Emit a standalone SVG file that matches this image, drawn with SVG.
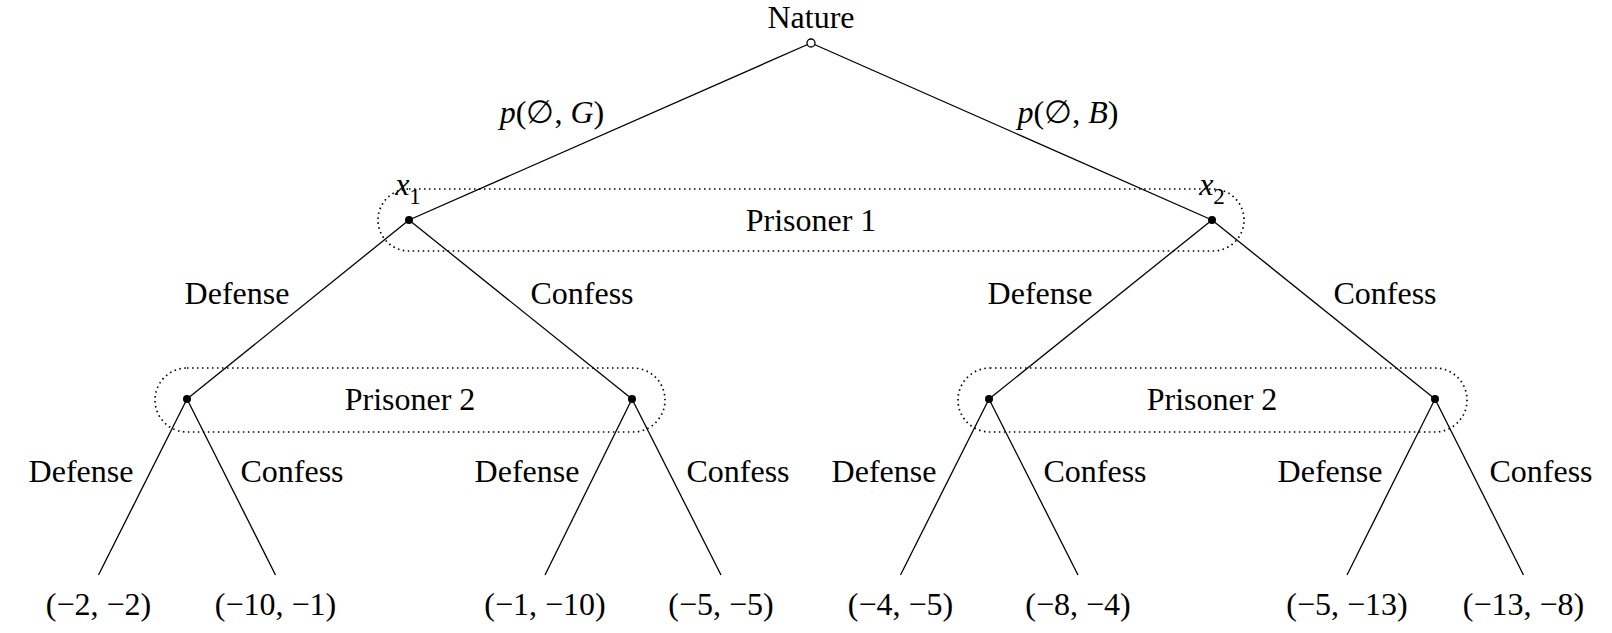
<svg xmlns="http://www.w3.org/2000/svg" width="1612" height="633" viewBox="0 0 1612 633">
<style>
  .edge { stroke: #000; stroke-width: 1.3; fill: none; }
  .info { stroke: #000; stroke-width: 1.7; fill: none; stroke-dasharray: 1.5 3.5; stroke-linecap: butt; }
  .dot { fill: #000; }
  .open { fill: #fff; stroke: #000; stroke-width: 1.3; }
  text { font-family: "Liberation Serif", "DejaVu Serif", serif; font-size: 32px; fill: #000; text-anchor: middle; }
  .it { font-style: italic; }
</style>
<rect width="1612" height="633" fill="#fff"/>
<g id="edges">
  <line class="edge" x1="811" y1="43" x2="409" y2="220"/>
  <line class="edge" x1="811" y1="43" x2="1212" y2="220"/>
  <line class="edge" x1="409" y1="220" x2="187" y2="399"/>
  <line class="edge" x1="409" y1="220" x2="632" y2="399"/>
  <line class="edge" x1="1212" y1="220" x2="989" y2="399"/>
  <line class="edge" x1="1212" y1="220" x2="1435" y2="399"/>
  <line class="edge" x1="187" y1="399" x2="98.5" y2="575"/>
  <line class="edge" x1="187" y1="399" x2="275.5" y2="575"/>
  <line class="edge" x1="632" y1="399" x2="545" y2="575"/>
  <line class="edge" x1="632" y1="399" x2="721" y2="575"/>
  <line class="edge" x1="989" y1="399" x2="900.5" y2="575"/>
  <line class="edge" x1="989" y1="399" x2="1078" y2="575"/>
  <line class="edge" x1="1435" y1="399" x2="1347" y2="575"/>
  <line class="edge" x1="1435" y1="399" x2="1523.5" y2="575"/>
  <text x="552" y="123"><tspan class="it">p</tspan>(∅, <tspan class="it">G</tspan>)</text>
  <text x="1068" y="123"><tspan class="it">p</tspan>(∅, <tspan class="it">B</tspan>)</text>
  <text x="237" y="304">Defense</text>
  <text x="582" y="304">Confess</text>
  <text x="1040" y="304">Defense</text>
  <text x="1385" y="304">Confess</text>
  <text x="81" y="482">Defense</text>
  <text x="292" y="482">Confess</text>
  <text x="527" y="482">Defense</text>
  <text x="738" y="482">Confess</text>
  <text x="884" y="482">Defense</text>
  <text x="1095" y="482">Confess</text>
  <text x="1330" y="482">Defense</text>
  <text x="1541" y="482">Confess</text>
</g>
<g id="infoset-p1">
  <rect class="info" x="378" y="189" width="866" height="62" rx="31" ry="31"/>
  <text x="811" y="231">Prisoner 1</text>
</g>
<g id="infoset-p2-left">
  <rect class="info" x="155" y="368" width="510" height="64" rx="32" ry="32"/>
  <text x="410" y="410">Prisoner 2</text>
</g>
<g id="infoset-p2-right">
  <rect class="info" x="958" y="368" width="509" height="64" rx="32" ry="32"/>
  <text x="1212" y="410">Prisoner 2</text>
</g>
<g id="nature">
  <circle class="open" cx="811" cy="43" r="4"/>
  <text x="811" y="28">Nature</text>
</g>
<g id="x1">
  <circle class="dot" cx="409" cy="220" r="4"/>
  <text x="408" y="195"><tspan class="it">x</tspan><tspan font-size="23" dy="9">1</tspan></text>
</g>
<g id="x2">
  <circle class="dot" cx="1212" cy="220" r="4"/>
  <text x="1212" y="195"><tspan class="it">x</tspan><tspan font-size="23" dy="9">2</tspan></text>
</g>
<g id="p2-a"><circle class="dot" cx="187" cy="399" r="4"/></g>
<g id="p2-b"><circle class="dot" cx="632" cy="399" r="4"/></g>
<g id="p2-c"><circle class="dot" cx="989" cy="399" r="4"/></g>
<g id="p2-d"><circle class="dot" cx="1435" cy="399" r="4"/></g>
<g id="leaf1"><text x="98.5" y="615">(−2, −2)</text></g>
<g id="leaf2"><text x="275.5" y="615">(−10, −1)</text></g>
<g id="leaf3"><text x="545" y="615">(−1, −10)</text></g>
<g id="leaf4"><text x="721" y="615">(−5, −5)</text></g>
<g id="leaf5"><text x="900.5" y="615">(−4, −5)</text></g>
<g id="leaf6"><text x="1078" y="615">(−8, −4)</text></g>
<g id="leaf7"><text x="1347" y="615">(−5, −13)</text></g>
<g id="leaf8"><text x="1523.5" y="615">(−13, −8)</text></g>
</svg>
